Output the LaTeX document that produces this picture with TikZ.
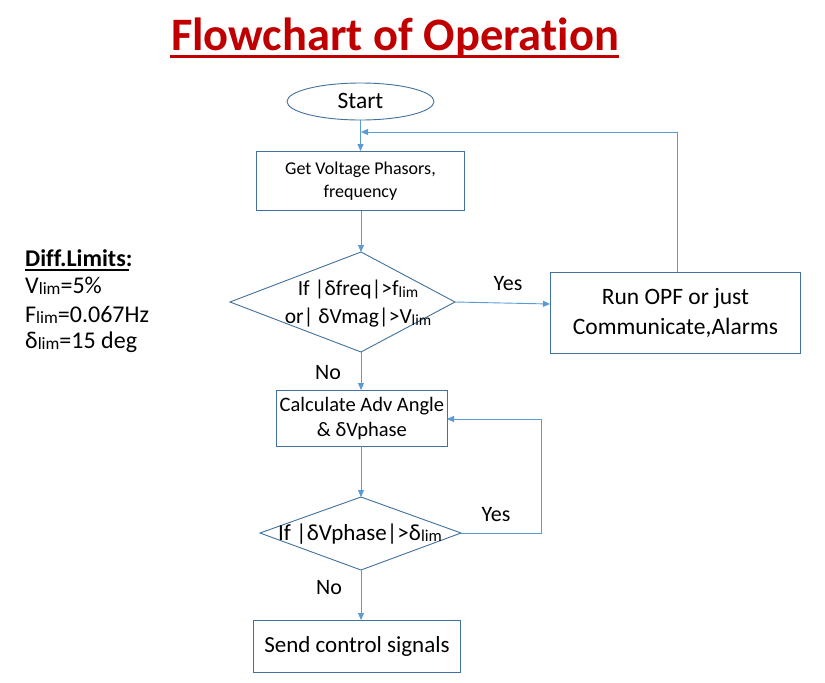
\documentclass[tikz,border=0pt]{standalone}
\usepackage{fontspec}
\setmainfont{Carlito}[Ligatures=NoCommon]
\usetikzlibrary{arrows.meta,calc}
\definecolor{shapeblue}{HTML}{41719C}
\definecolor{lineblue}{HTML}{5B9BD5}
\definecolor{titlered}{HTML}{C00000}
\newcommand{\lm}{\raisebox{-0.12ex}{\fontsize{0.72em}{1em}\selectfont lim}}
\begin{document}
\begin{tikzpicture}[x=1pt,y=-1pt,
  shapeline/.style={draw=shapeblue, line width=0.9pt},
  boxnode/.style={shapeline, inner sep=0pt, align=center, anchor=north west},
  txt/.style={inner sep=0pt, align=center},
  conn/.style={draw=lineblue, line width=0.9pt, -{Triangle[width=6pt,length=7pt]}},
  lbl/.style={inner sep=0pt, font=\fontsize{22}{26}\selectfont}]
\useasboundingbox (0,0) rectangle (825,683);
\fill[white] (0,0) rectangle (825,683);

% title
\node[txt, anchor=base, text=titlered, font=\fontsize{46.5}{54}\selectfont\bfseries] (title) at (395,50) {Flowchart of Operation};
\draw[titlered, line width=3pt] (170,56) -- (619,56);

% left limits
\node[txt, anchor=base west, font=\fontsize{24}{28}\selectfont] (limits) at (25,266)
  {\textbf{Diff.Limits:}};
\draw[black, line width=1.6pt] (25,270) -- (129,270);
\node[txt, anchor=base west, font=\fontsize{24}{28}\selectfont] (vlim) at (25,293) {V\lm=5\%};
\node[txt, anchor=base west, font=\fontsize{24}{28}\selectfont] (flim) at (25,322) {F\lm=0.067Hz};
\node[txt, anchor=base west, font=\fontsize{24}{28}\selectfont] (dlim) at (25,348) {δ\lm=15 deg};

% start
\draw[shapeline] (360.5,101.5) ellipse (73.5 and 18.5);
\node[txt, font=\fontsize{23.5}{28}\selectfont] (start) at (360.5,101) {Start};
\coordinate (startS) at (360.5,120);

% get
\node[boxnode, minimum width=208pt, minimum height=59pt, font=\fontsize{18}{23}\selectfont] (get) at (256,151) {Get Voltage Phasors,\\frequency};
\coordinate (getN) at (360.5,151);

% diamond 1
\coordinate (d1T) at (361,252);
\coordinate (d1B) at (361,352);
\coordinate (d1L) at (230,302);
\coordinate (d1R) at (455,302);
\draw[shapeline] (d1T) -- (d1R) -- (d1B) -- (d1L) -- cycle;
\node[txt, font=\fontsize{21.5}{28}\selectfont] (dia1) at (358,304) {If |δfreq|>f\lm\\or| δVmag|>V\lm};

% run box
\node[boxnode, minimum width=250pt, minimum height=81pt, font=\fontsize{23.5}{30}\selectfont] (run) at (550,272) {Run OPF or just\\Communicate,Alarms};
\coordinate (runN) at (677,272);
\coordinate (runW) at (550,304);
\coordinate (fbc) at (677,132);
\coordinate (fbe) at (361,132);

% calc box
\node[boxnode, minimum width=171pt, minimum height=56pt, font=\fontsize{20.5}{25}\selectfont] (calc) at (276,390) {Calculate Adv Angle\\\& δVphase};
\coordinate (calcN) at (361,390);
\coordinate (calcS) at (361,446);
\coordinate (calcE) at (447,419);

% diamond 2
\coordinate (d2T) at (361,497);
\coordinate (d2B) at (361,570);
\coordinate (d2L) at (260,533);
\coordinate (d2R) at (461,533);
\draw[shapeline] (d2T) -- (d2R) -- (d2B) -- (d2L) -- cycle;
\node[txt, font=\fontsize{23}{28}\selectfont] (dia2) at (360,534) {If |δVphase|>δ\lm};
\coordinate (lc1) at (541,533);
\coordinate (lc2) at (541,419);

% send box
\node[boxnode, minimum width=207pt, minimum height=52pt, font=\fontsize{23}{28}\selectfont] (send) at (253,620) {Send control signals};
\coordinate (sendN) at (361,620);

% connectors
\draw[conn] (startS) -- (getN);
\draw[conn] (get.south -| d1T) -- (d1T);
\draw[conn] (d1R) -- (runW);
\draw[conn] (runN) -- (fbc) -- (fbe);
\draw[conn] (d1B) -- (calcN);
\draw[conn] (calcS) -- (d2T);
\draw[conn] (d2R) -- (lc1) -- (lc2) -- (calcE);
\draw[conn] (d2B) -- (sendN);

% labels
\node[lbl] (yes1) at (508,284) {Yes};
\node[lbl] (no1) at (328,373) {No};
\node[lbl] (yes2) at (496,515) {Yes};
\node[lbl] (no2) at (329,588) {No};
\end{tikzpicture}
\end{document}
